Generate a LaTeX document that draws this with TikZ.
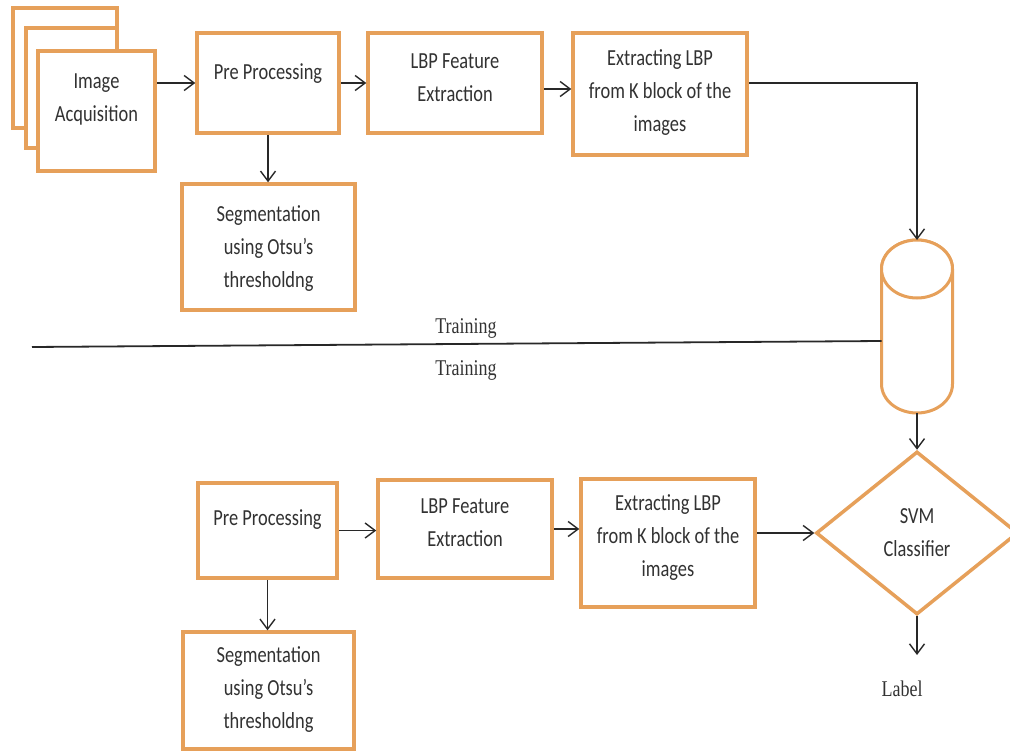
\documentclass[tikz,border=0pt]{standalone}
\usepackage{fontspec}
\newfontfamily\blockface{Carlito}[FakeStretch=0.8]
\newfontfamily\serifnote{Liberation Serif}[FakeStretch=0.8]
\usetikzlibrary{arrows.meta,shapes.geometric}
\definecolor{boxorange}{RGB}{230,160,90}
\definecolor{inkgray}{RGB}{40,40,40}
\definecolor{textgray}{RGB}{50,50,50}
\newcommand\blockfont{\blockface\fontsize{23}{33}\selectfont}
\newcommand\notefont{\serifnote\fontsize{22.5}{26}\selectfont}
\tikzset{
  block/.style={draw=boxorange, line width=3.5pt, fill=white, inner sep=0pt},
  blocktext/.style={align=center, text=textgray, font=\blockfont},
  notetext/.style={text=textgray, font=\notefont},
  flow/.style={draw=inkgray, line width=1.4pt, -{Straight Barb[length=10pt,width=15pt]}},
  sepline/.style={draw=inkgray, line width=1.8pt},
  cyl/.style={draw=boxorange, line width=3pt, fill=white},
}
\begin{document}
\begin{tikzpicture}[x=1pt,y=-1pt]
  \useasboundingbox (0,0) rectangle (1010,752);
  \node[block, minimum width=104pt, minimum height=120pt] (acq3) at (65,68) {};
  \node[block, minimum width=91pt, minimum height=120pt] (acq2) at (71.5,88) {};
  \node[block, minimum width=117pt, minimum height=120pt] (acq) at (96.5,111) {};
  \node[blocktext] (acq-t) at (96.5,99) {Image\\Acquisition};
  \node[block, minimum width=142pt, minimum height=100pt] (pre) at (268,83) {};
  \node[blocktext] (pre-t) at (268,74) {Pre Processing};
  \node[block, minimum width=174pt, minimum height=100pt] (lbp) at (455,83) {};
  \node[blocktext] (lbp-t) at (455,77.5) {LBP Feature\\Extraction};
  \node[block, minimum width=174pt, minimum height=122pt] (ext) at (660,94) {};
  \node[blocktext] (ext-t) at (660,93) {Extracting LBP\\from K block of the\\images};
  \node[block, minimum width=173pt, minimum height=126pt] (seg) at (268.5,247) {};
  \node[blocktext] (seg-t) at (268.5,249) {Segmentation\\using Otsu’s\\thresholdng};

  \draw[flow] (acq.east |- pre.west) -- (pre.west);
  \draw[flow] (pre) -- (lbp);
  \coordinate (lbpout) at ([yshift=-6pt]lbp.east);
  \draw[flow] (lbpout) -- (lbpout -| ext.west);
  \draw[flow] (pre.south) -- (pre.south |- seg.north);

  \node[minimum width=71pt, minimum height=173pt, inner sep=0pt, outer sep=0pt] (db) at (917,326.5) {};
  \coordinate (dbtop) at ([yshift=-29pt]db.north);
  \coordinate (dbbot) at ([yshift=29pt]db.south);
  \draw[cyl] ([xshift=-35.5pt]dbtop) -- ([xshift=-35.5pt]dbbot)
    arc[start angle=180, end angle=360, x radius=35.5pt, y radius=29pt]
    -- ([xshift=35.5pt]dbtop)
    arc[start angle=0, end angle=180, x radius=35.5pt, y radius=29pt] -- cycle;
  \draw[cyl] (dbtop) ellipse[x radius=35.5pt, y radius=29pt];
  \coordinate (extout) at ([yshift=11pt]ext.east);
  \draw[flow] (extout) -| (db.north);

  \coordinate (split) at (32,347);
  \draw[sepline] (split) -- ([yshift=-14.5pt]db.west);
  \node[notetext] (train1) at (466,328) {Training};
  \node[notetext] (train2) at (466,370) {Training};

  \node[block, minimum width=139pt, minimum height=95pt] (pre2) at (267.5,530.5) {};
  \node[blocktext] (pre2-t) at (267.5,520) {Pre Processing};
  \node[block, minimum width=174pt, minimum height=98pt] (lbp2) at (465,529) {};
  \node[blocktext] (lbp2-t) at (465,522.5) {LBP Feature\\Extraction};
  \node[block, minimum width=174pt, minimum height=128pt] (ext2) at (668,543) {};
  \node[blocktext] (ext2-t) at (668,538) {Extracting LBP\\from K block of the\\images};
  \node[block, minimum width=171pt, minimum height=117pt] (seg2) at (268.5,690.5) {};
  \node[blocktext] (seg2-t) at (268.5,690) {Segmentation\\using Otsu’s\\thresholdng};
  \node[block, blocktext, diamond, aspect=1.24, minimum width=202pt, minimum height=163pt] (svm) at (917,533) {SVM\\Classifier};

  \draw[flow] (pre2) -- (pre2 -| lbp2.west);
  \draw[flow] (lbp2) -- (lbp2 -| ext2.west);
  \draw[flow] (ext2.east |- svm.west) -- (svm.west);
  \draw[flow] (pre2.south) -- (pre2.south |- seg2.north);
  \draw[flow] (db.south) -- (svm.north);

  \coordinate (out) at (917,655);
  \draw[flow] (svm.south) -- (out);
  \node[notetext] (lbl) at (902,689) {Label};
\end{tikzpicture}
\end{document}
